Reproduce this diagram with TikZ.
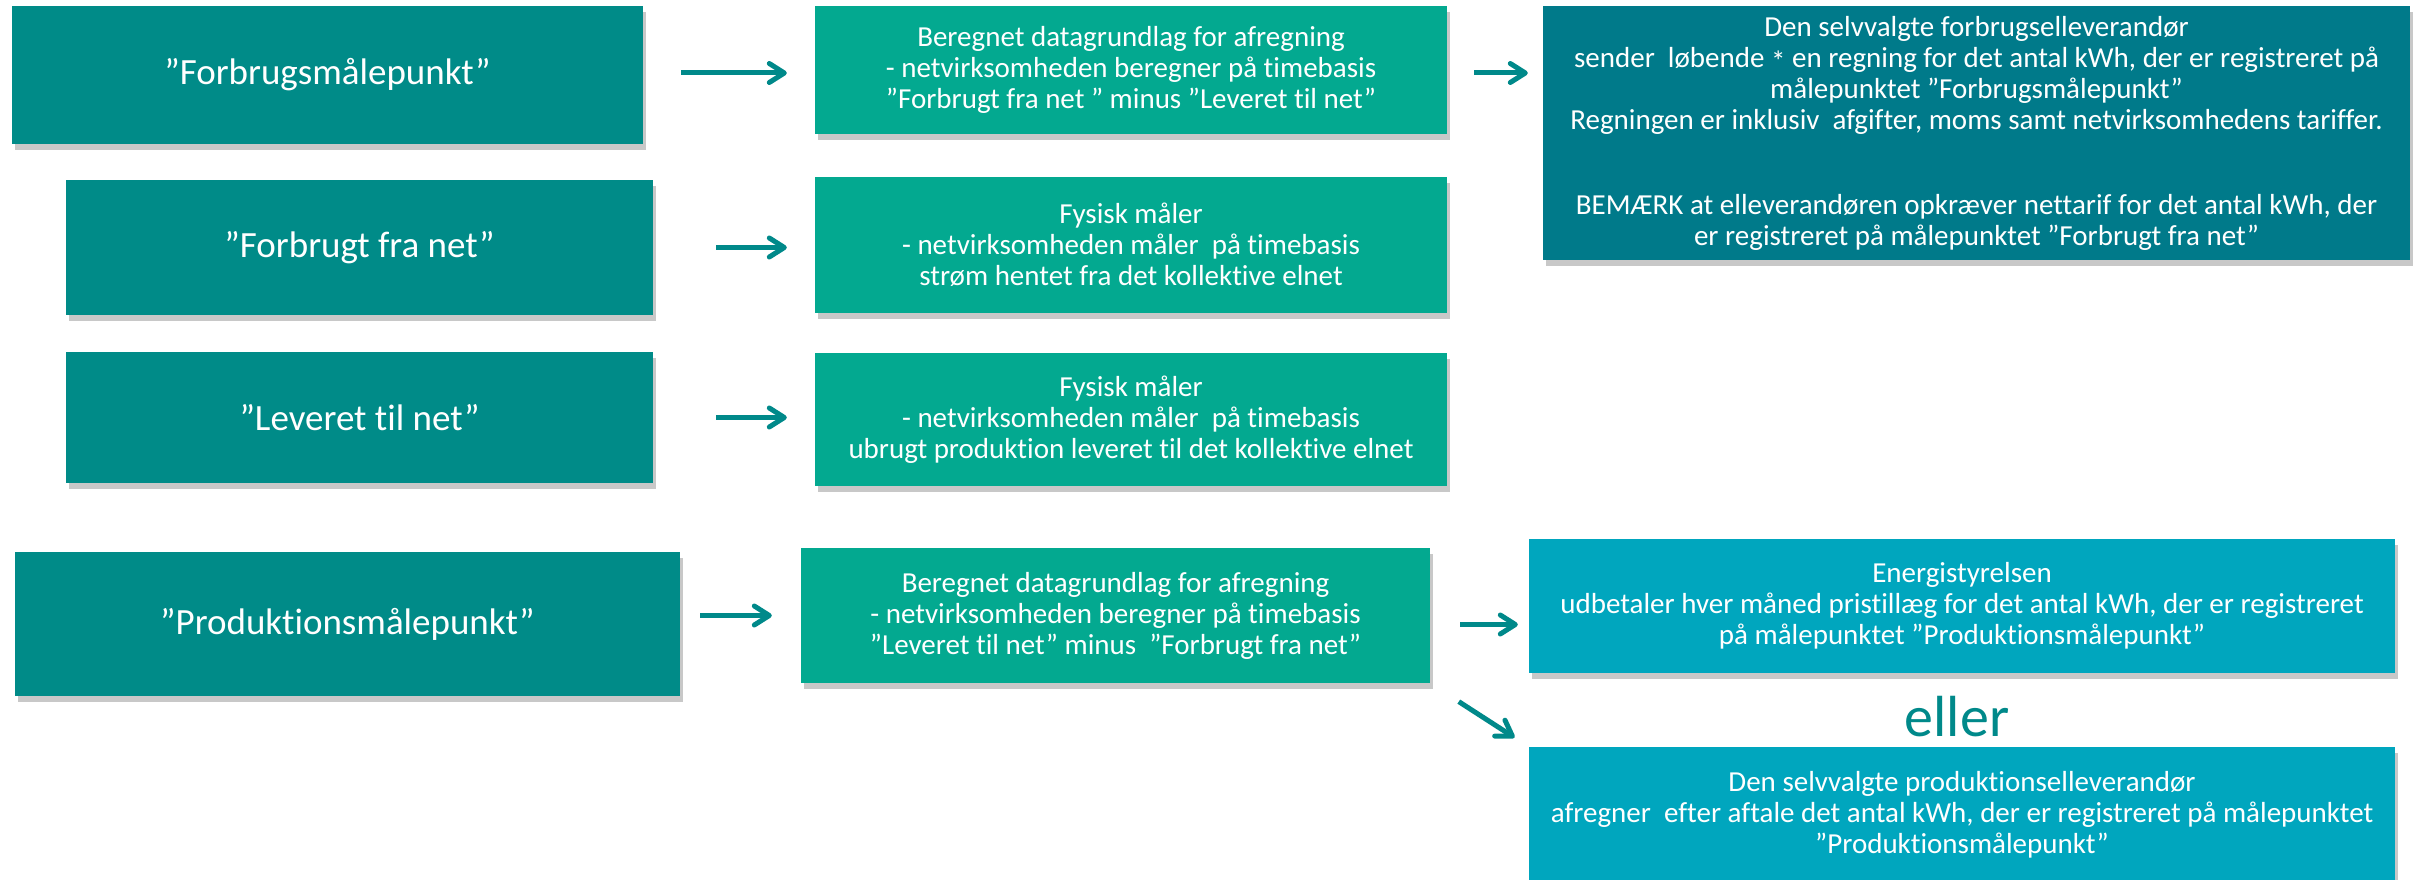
\documentclass[tikz,border=0pt]{standalone}
\usepackage{fontspec}
\setmainfont[Ligatures=NoCommon]{Carlito}
\usetikzlibrary{arrows.meta,shadows}
\definecolor{mpteal}{RGB}{0,139,136}
\definecolor{calcgreen}{RGB}{3,169,144}
\definecolor{supplierteal}{RGB}{0,122,138}
\definecolor{payercyan}{RGB}{0,166,190}
\definecolor{arrowteal}{RGB}{0,137,138}
\tikzset{
  basebox/.style={
    text=white,
    align=center,
    inner sep=4pt,
    drop shadow={shadow xshift=3pt, shadow yshift=-6pt, opacity=0.3, fill=black!70}
  },
  mpbox/.style={basebox, fill=mpteal, font=\fontsize{37}{44}\selectfont},
  calcbox/.style={basebox, fill=calcgreen, font=\fontsize{29}{31}\selectfont},
  supplierbox/.style={basebox, fill=supplierteal, font=\fontsize{29}{31}\selectfont},
  payerbox/.style={basebox, fill=payercyan, font=\fontsize{29}{31}\selectfont},
  flowarrow/.style={-{Straight Barb[length=15pt, width=19pt, round]}, line width=5pt, draw=arrowteal}
}

\begin{document}
\begin{tikzpicture}[x=1pt, y=-1pt]
  \useasboundingbox (0,0) rectangle (2420,880);
  \fill[white] (0,0) rectangle (2420,880);

  \node[mpbox, minimum width=631pt, minimum height=138pt] (fmp) at (327.5,75) {”Forbrugsmålepunkt”};
  \node[calcbox, minimum width=632pt, minimum height=128pt] (fmpcalc) at (1131,70) {Beregnet datagrundlag for afregning\\- netvirksomheden beregner på timebasis\\”Forbrugt fra net ” minus ”Leveret til net”};
  \node[supplierbox, minimum width=867pt, minimum height=253pt] (supplier) at (1976.5,133) {Den selvvalgte forbrugselleverandør\\sender\ \ løbende \raisebox{-0.35ex}{*} en regning for det antal kWh, der er registreret på\\målepunktet ”Forbrugsmålepunkt”\\Regningen er inklusiv\ \ afgifter, moms samt netvirksomhedens tariffer.\\[54pt]BEMÆRK at elleverandøren opkræver nettarif for det antal kWh, der\\er registreret på målepunktet ”Forbrugt fra net”};

  \node[mpbox, minimum width=587pt, minimum height=135pt] (fra) at (359.5,247.5) {”Forbrugt fra net”};
  \node[calcbox, minimum width=632pt, minimum height=136pt] (framaaler) at (1131,245) {Fysisk måler\\- netvirksomheden måler\ \ på timebasis\\strøm hentet fra det kollektive elnet};

  \node[mpbox, minimum width=587pt, minimum height=131pt] (til) at (359.5,417.5) {”Leveret til net”};
  \node[calcbox, minimum width=632pt, minimum height=133pt] (tilmaaler) at (1131,419.5) {Fysisk måler\\- netvirksomheden måler\ \ på timebasis\\ubrugt produktion leveret til det kollektive elnet};

  \node[mpbox, minimum width=665pt, minimum height=144pt] (pmp) at (347.5,624) {”Produktionsmålepunkt”};
  \node[calcbox, minimum width=629pt, minimum height=135pt] (pmpcalc) at (1115.5,615.5) {Beregnet datagrundlag for afregning\\- netvirksomheden beregner på timebasis\\”Leveret til net” minus\ \ ”Forbrugt fra net”};
  \node[payerbox, minimum width=866pt, minimum height=134pt] (ens) at (1962,606) {Energistyrelsen\\udbetaler hver måned pristillæg for det antal kWh, der er registreret\\på målepunktet ”Produktionsmålepunkt”};
  \node[font=\fontsize{58}{66}\selectfont, text=arrowteal] (eller) at (1957,717) {eller};
  \node[payerbox, minimum width=866pt, minimum height=136pt] (prodsupplier) at (1962,815) {Den selvvalgte produktionselleverandør\\afregner\ \ efter aftale det antal kWh, der er registreret på målepunktet\\”Produktionsmålepunkt”};

  \coordinate (fmpline) at ([yshift=2pt]fmp.east);
  \coordinate (enstail) at ([yshift=-9pt]pmpcalc.east);

  \draw[flowarrow, shorten <=38pt, shorten >=28pt] (fmpline) -- (fmpline -| fmpcalc.west);
  \draw[flowarrow, shorten <=27pt, shorten >=15pt] (fmpline -| fmpcalc.east) -- (fmpline -| supplier.west);
  \draw[flowarrow, shorten <=63pt, shorten >=28pt] (fra.east) -- (fra.east -| framaaler.west);
  \draw[flowarrow, shorten <=63pt, shorten >=28pt] (til.east) -- (til.east -| tilmaaler.west);
  \draw[flowarrow, shorten <=20pt, shorten >=29pt] (pmp.east |- pmpcalc.west) -- (pmpcalc.west);
  \draw[flowarrow, shorten <=30pt, shorten >=11pt] (enstail) -- (enstail -| ens.west);
  \draw[flowarrow, shorten <=34pt, shorten >=17pt] (pmpcalc.south east) -- (prodsupplier.north west);
\end{tikzpicture}
\end{document}
